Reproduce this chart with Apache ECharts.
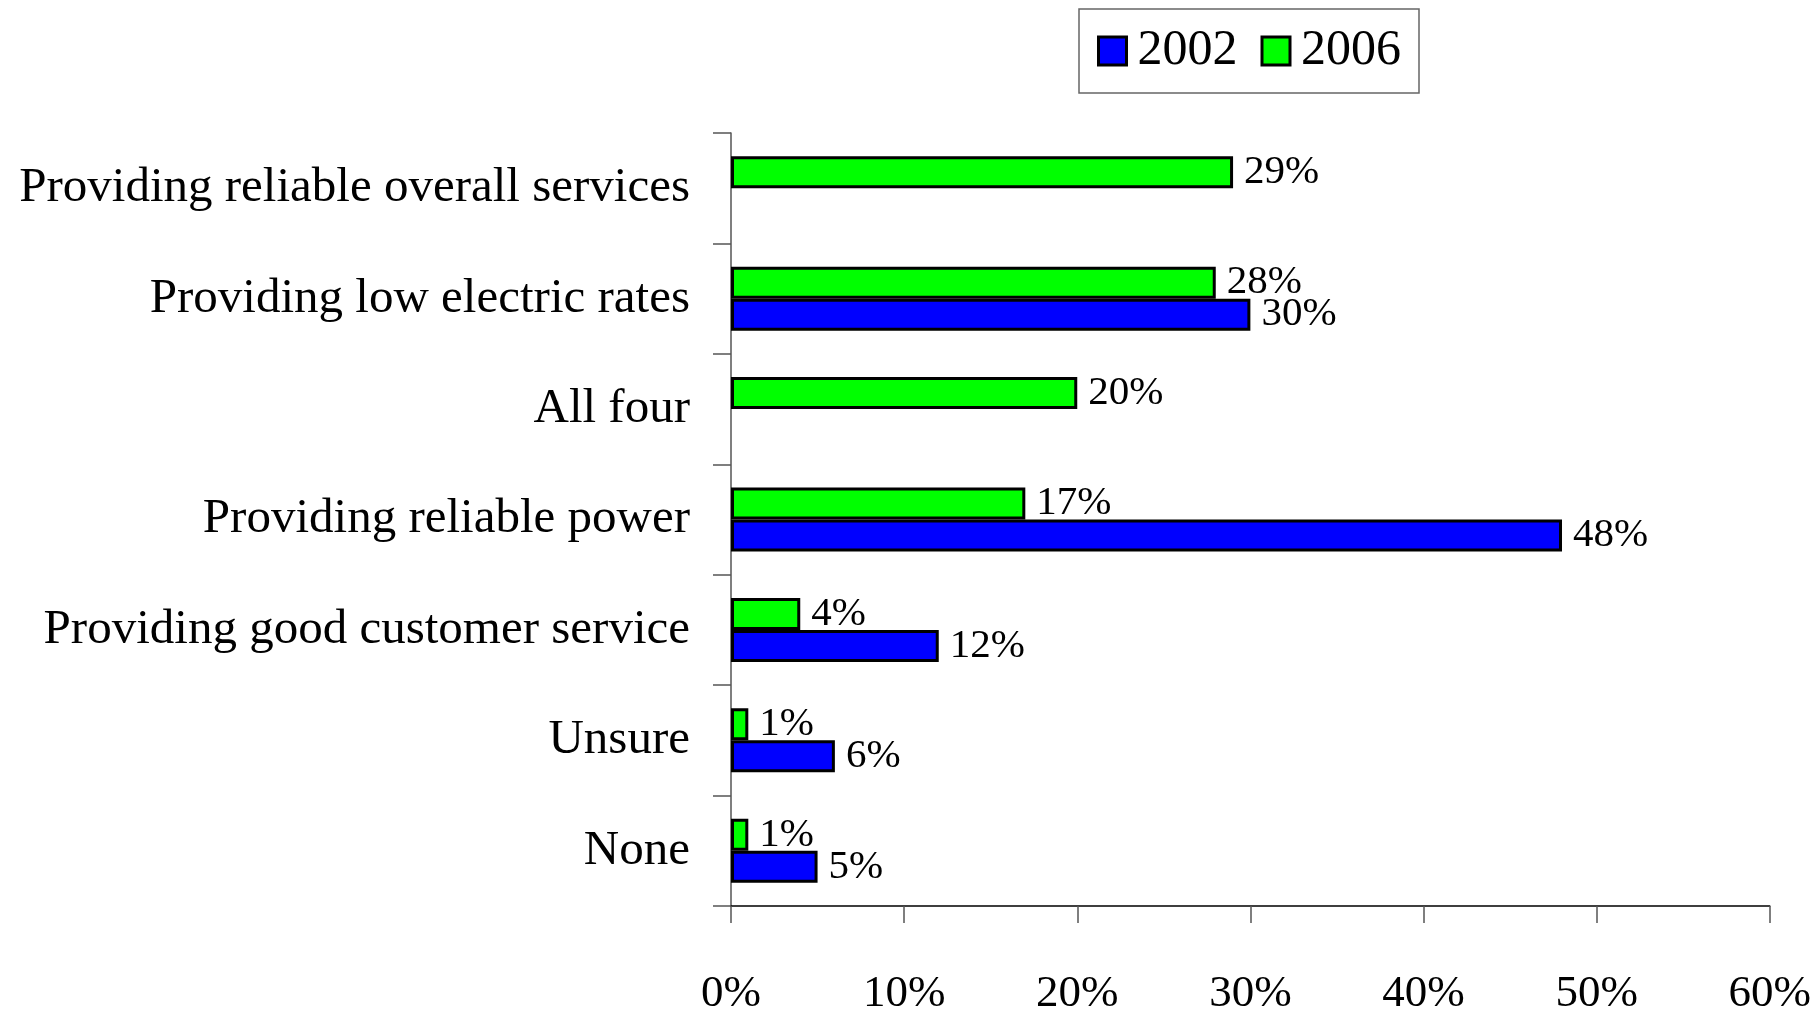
<!DOCTYPE html>
<html>
<head>
<meta charset="utf-8">
<script src="https://cdn.jsdelivr.net/npm/echarts@6/dist/echarts.min.js"></script>
<style>
html,body{margin:0;padding:0;background:#fff;}
#chart{width:1814px;height:1017px;}
</style>
</head>
<body>
<div id="chart"></div>
<script>
var categories = [
  'Providing reliable overall services',
  'Providing low electric rates',
  'All four',
  'Providing reliable power',
  'Providing good customer service',
  'Unsure',
  'None'
];
var seriesNames = ['2002', '2006'];
var values2002 = [null, 30, null, 48, 12, 6, 5];
var values2006 = [29, 28, 20, 17, 4, 1, 1];
var xTicks = [0, 10, 20, 30, 40, 50, 60];

var FONT = "'Liberation Serif', 'Times New Roman', serif";
var chart = echarts.init(document.getElementById('chart'), null, {renderer: 'canvas'});

function labelCfg() {
  return {
    show: true,
    position: 'right',
    distance: 11,
    color: '#000',
    fontFamily: FONT,
    fontSize: 41,
    padding: [4, 0, 0, 0],
    formatter: function (p) { return p.value == null ? '' : p.value + '%'; }
  };
}

chart.setOption({
  animation: false,
  backgroundColor: '#fff',
  legend: {
    data: seriesNames,
    left: 1079,
    top: 9,
    padding: [17, 18, 17, 18],
    itemWidth: 28,
    itemHeight: 28,
    itemGap: 23,
    borderColor: '#666',
    borderWidth: 1.5,
    icon: 'rect',
    textStyle: {fontFamily: FONT, fontSize: 50, color: '#000', padding: [0, 0, 0, 6]},
    itemStyle: {borderColor: '#000', borderWidth: 3}
  },
  grid: {left: 731, right: 44, top: 133, bottom: 108, containLabel: false},
  xAxis: {
    type: 'value',
    min: xTicks[0],
    max: xTicks[xTicks.length - 1],
    interval: 10,
    splitLine: {show: false},
    axisLine: {show: true, lineStyle: {color: '#000', width: 1.5}},
    axisTick: {show: true, length: 17, lineStyle: {color: '#555', width: 1.5}},
    axisLabel: {
      margin: 66,
      fontFamily: FONT,
      fontSize: 45,
      color: '#000',
      formatter: function (v) { return v + '%'; }
    }
  },
  yAxis: {
    type: 'category',
    data: categories,
    inverse: true,
    axisLine: {show: true, lineStyle: {color: '#555', width: 1.5}},
    axisTick: {show: true, length: 18, lineStyle: {color: '#555', width: 1.5}},
    axisLabel: {
      margin: 41,
      fontFamily: FONT,
      fontSize: 49,
      color: '#000',
      padding: [9, 0, 0, 0]
    }
  },
  series: [
    {
      name: seriesNames[1],
      type: 'bar',
      data: values2006,
      barWidth: 32,
      barGap: '0%',
      itemStyle: {color: '#00ff00', borderColor: '#000', borderWidth: 3},
      label: labelCfg(),
      z: 3
    },
    {
      name: seriesNames[0],
      type: 'bar',
      data: values2002,
      barWidth: 32,
      barGap: '0%',
      itemStyle: {color: '#0000ff', borderColor: '#000', borderWidth: 3},
      label: labelCfg(),
      z: 2
    }
  ]
});
</script>
</body>
</html>
